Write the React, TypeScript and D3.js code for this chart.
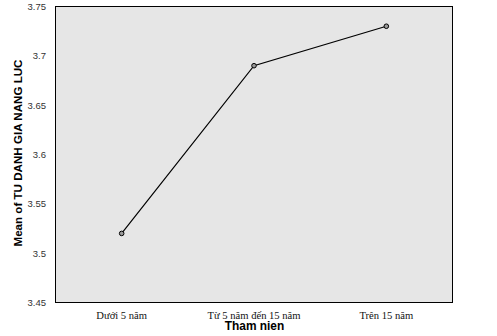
import React from "react";
import * as d3 from "d3";

const categories = ["Dưới 5 năm", "Từ 5 năm đến 15 năm", "Trên 15 năm"];
const means = [3.52, 3.69, 3.73];
const yTicks = [3.45, 3.5, 3.55, 3.6, 3.65, 3.7, 3.75];
const xTitle = "Tham nien";
const yTitle = "Mean of TU DANH GIA NANG LUC";

export default function App() {
  const W = 497, H = 336;
  const left = 55.5, right = 452.5, top = 6.5, bottom = 302.5;
  const x = d3.scaleBand<string>().domain(categories).range([left, right]);
  const y = d3.scaleLinear().domain([3.45, 3.75]).range([bottom, top]);
  const pts: [number, number][] = categories.map((c, i) => [x(c)! + x.bandwidth() / 2, y(means[i])]);
  const line = d3.line()(pts) || "";
  return (
    <svg width={W} height={H} style={{ position: "absolute", left: 0, top: 0 }}>
      <rect x={0} y={0} width={W} height={H} fill="#fff" />
      <rect x={left} y={top} width={right - left} height={bottom - top} fill="#e6e6e6" stroke="#000" strokeWidth={1} />
      {yTicks.map((t) => (
        <text key={t} x={46} y={y(t) + 3.5} textAnchor="end" fontFamily="Liberation Sans, Arial" fontSize={9.5} fill="#333">
          {String(t)}
        </text>
      ))}
      {categories.map((c) => (
        <text key={c} x={x(c)! + x.bandwidth() / 2} y={318.5} textAnchor="middle" fontFamily="Liberation Serif, Times New Roman" fontSize={10.6} fill="#111">
          {c}
        </text>
      ))}
      <path d={line} fill="none" stroke="#000" strokeWidth={1.2} />
      {pts.map((p, i) => (
        <circle key={i} cx={p[0]} cy={p[1]} r={2.3} fill="#999" stroke="#000" strokeWidth={1} />
      ))}
      <text x={254.5} y={330} textAnchor="middle" fontFamily="Liberation Sans, Arial" fontWeight="bold" fontSize={11.9} fill="#000">
        {xTitle}
      </text>
      <text transform={`translate(21.5,153) rotate(-90)`} textAnchor="middle" fontFamily="Liberation Sans, Arial" fontWeight="bold" fontSize={11.6} fill="#000">
        {yTitle}
      </text>
    </svg>
  );
}
